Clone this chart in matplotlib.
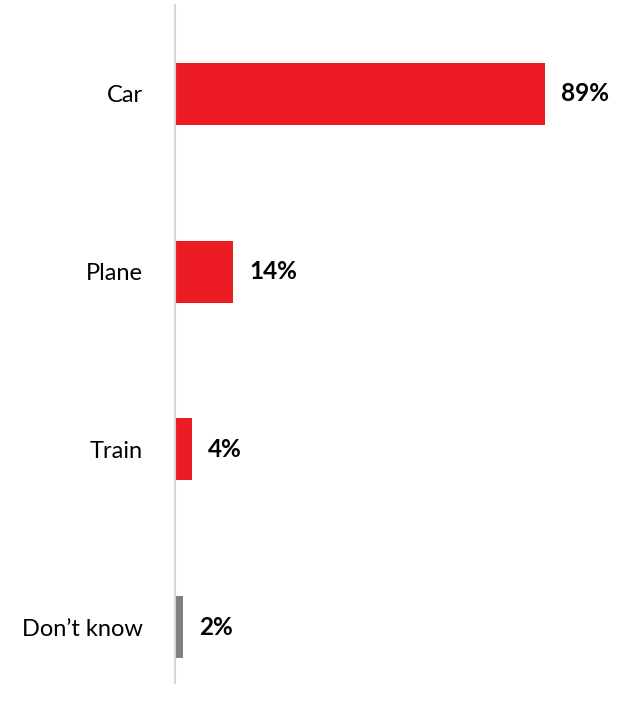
import matplotlib.pyplot as plt

categories = ["Car", "Plane", "Train", "Don\u2019t know"]
values = [89, 14, 4, 2]
labels = ["89%", "14%", "4%", "2%"]
colors = ["#ED1C24", "#ED1C24", "#ED1C24", "#808080"]

plt.rcParams['font.family'] = ['Lato', 'DejaVu Sans']

fig = plt.figure(figsize=(6.21, 7.13), dpi=100)
W, H = 621, 713
left, right, top, bottom = 175, 621, 5, 683
ax = fig.add_axes([left / W, 1 - bottom / H, (right - left) / W, (bottom - top) / H])

# bar centres sit ~177.7 px apart; axis runs from y=5 to y=683
step = 177.7
ypos = list(range(len(categories)))
ax.barh(ypos, values, height=62 / step, color=colors)
ax.set_ylim(3 + (683 - 627) / step, 0 - (94 - 5) / step)
ax.set_xlim(0, (right - left) / 4.157)

for y, v, lab in zip(ypos, values, labels):
    ax.text(v + 16 / 4.157, y, lab, va='center', ha='left',
            fontsize=17.5, fontweight='bold', color='black')

ax.set_yticks(ypos)
ax.set_yticklabels(categories, fontsize=17)
ax.tick_params(axis='y', length=0, pad=23)
ax.set_xticks([])
for s in ['top', 'right', 'bottom']:
    ax.spines[s].set_visible(False)
ax.spines['left'].set_color('#D9D9D9')
ax.spines['left'].set_linewidth(1.5)

fig.savefig('out.png', dpi=100)
